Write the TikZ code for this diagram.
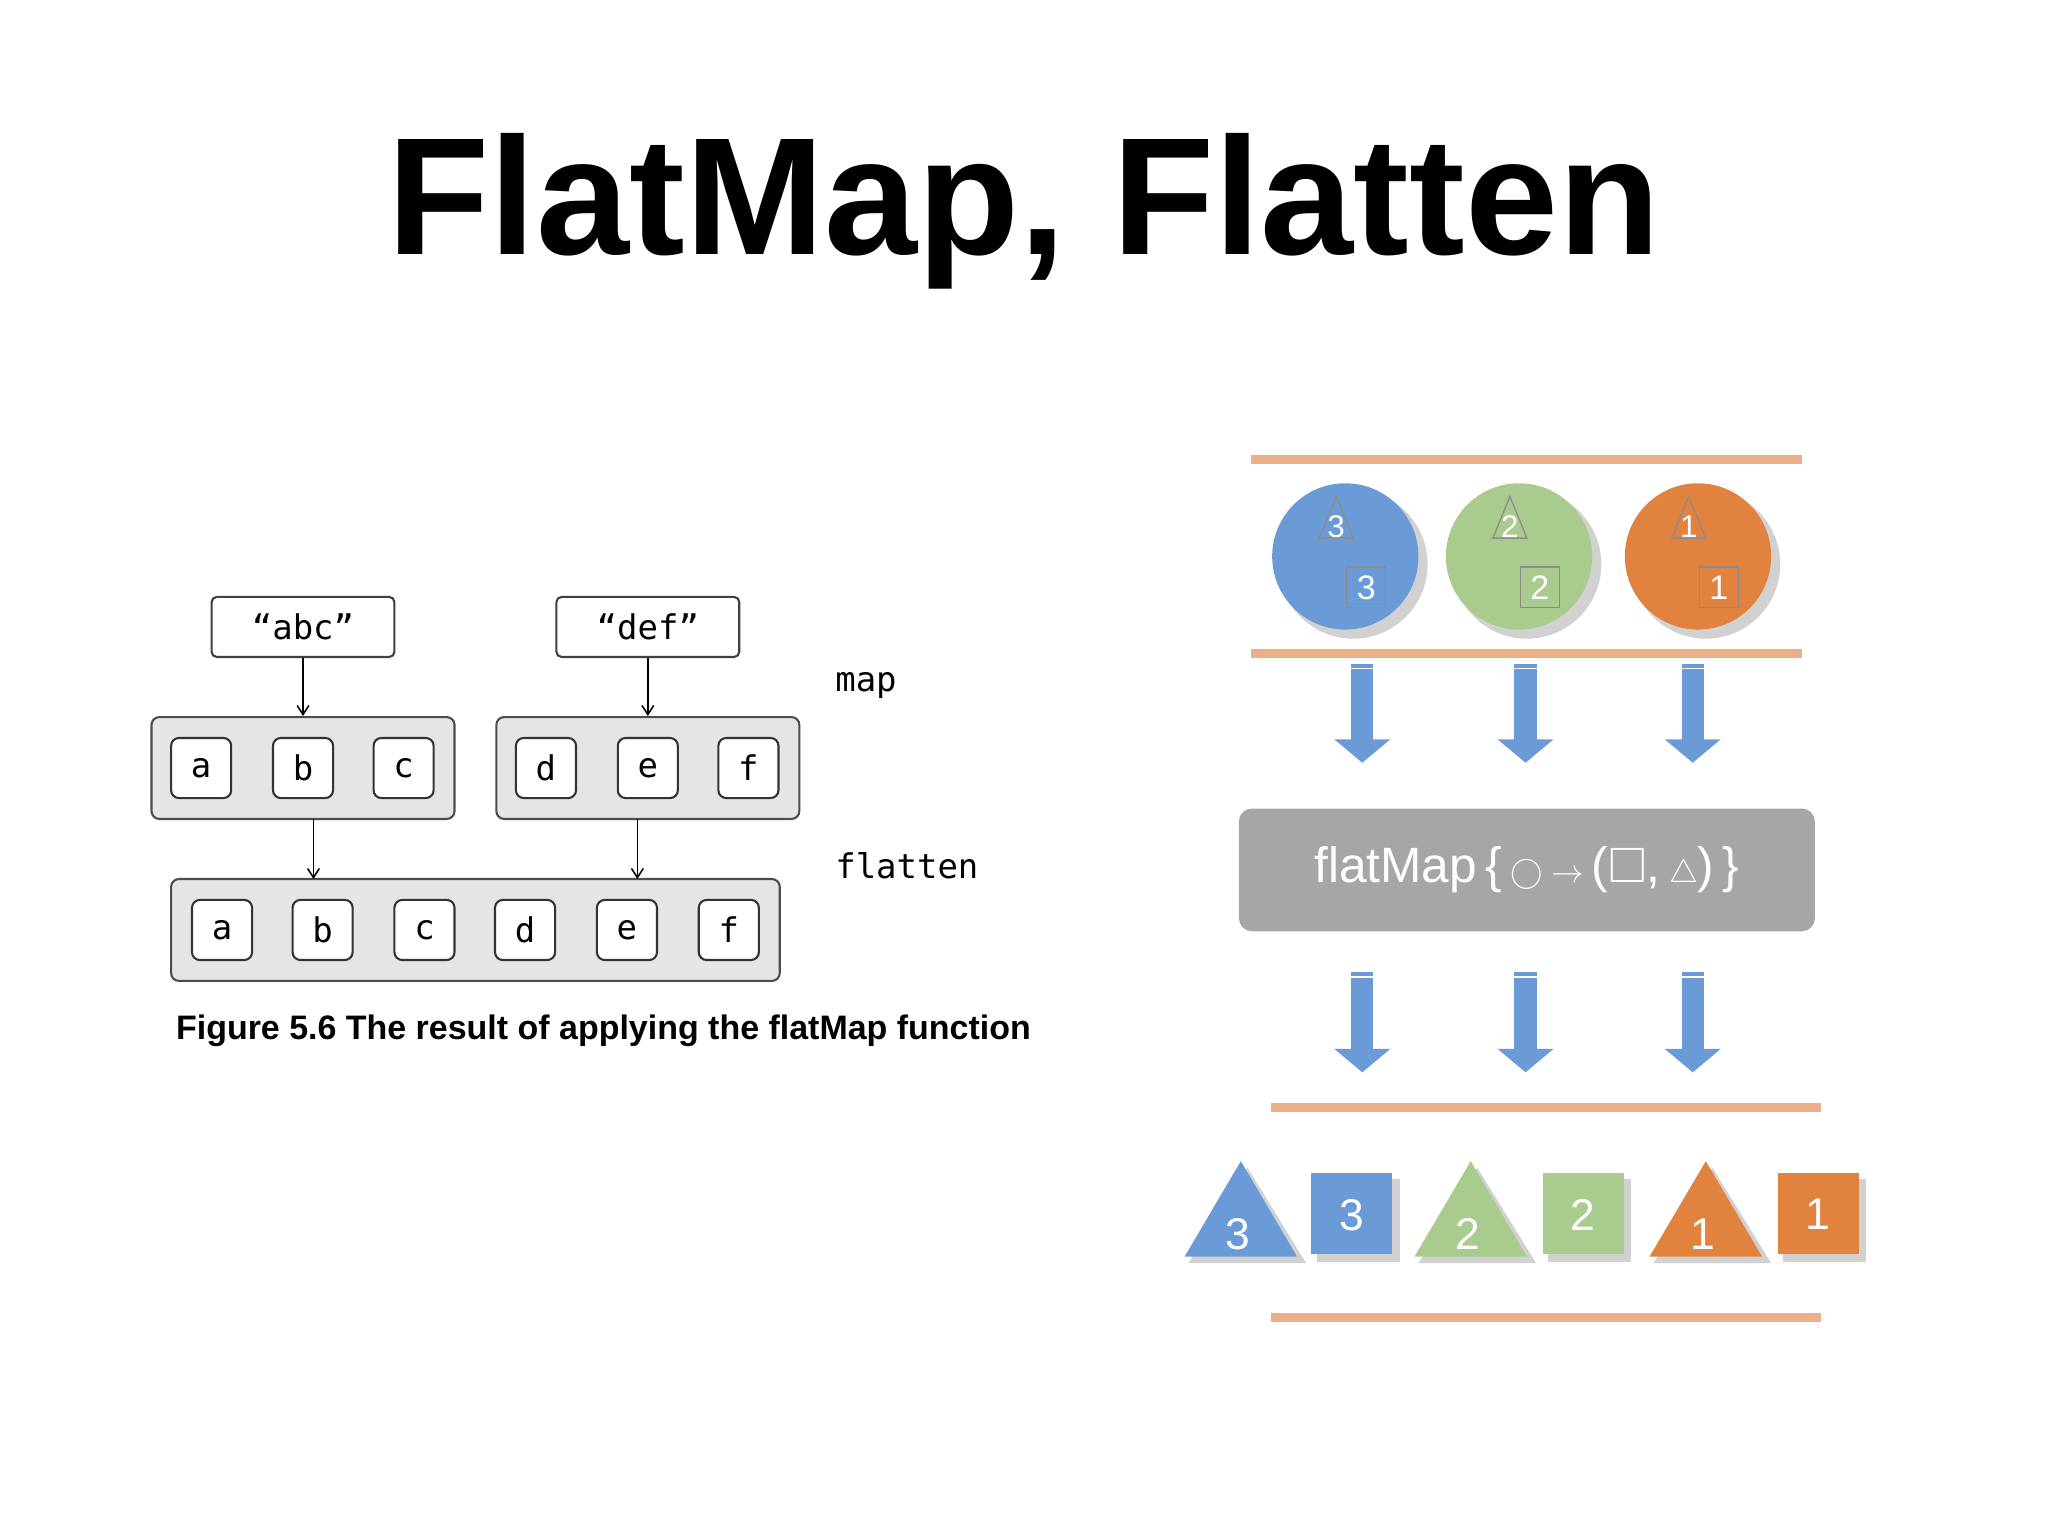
\documentclass[tikz,border=0pt]{standalone}
\usepackage{amssymb}
\usepackage{fontspec}
\setmainfont{Liberation Sans}
\newfontfamily\monof{DejaVu Sans Mono}
\usetikzlibrary{arrows.meta}
\definecolor{ob}{HTML}{6A9BD6}
\definecolor{og}{HTML}{A9CC8E}
\definecolor{oo}{HTML}{E2823F}
\definecolor{ol}{HTML}{EBB08A}
\begin{document}
\begin{tikzpicture}[x=1pt,y=-1pt,
  str/.style={draw=black!75,line width=1.6pt,rounded corners=4pt,fill=white,minimum width=140pt,minimum height=46pt,font=\monof\fontsize{26}{28}\selectfont},
  grp/.style={draw=black!70,line width=1.6pt,rounded corners=6pt,fill=black!10,minimum height=78pt},
  let/.style={draw=black!80,line width=1.6pt,rounded corners=6pt,fill=white,minimum width=46pt,minimum height=46pt,inner sep=0pt,font=\monof\fontsize{26}{28}\selectfont},
  sarr/.style={-{Straight Barb[length=7pt,width=9pt]},line width=1.2pt},
  oline/.style={ol,line width=7pt},
  barr/.style={ob,line width=17pt,-{Triangle[length=18pt,width=42pt]}},
  shad/.style={black,opacity=0.18},
  wt/.style={text=white,font=\fontsize{30}{32}\selectfont,inner sep=0pt}]
\useasboundingbox (0,0) rectangle (1568,1176);
\node[font=\bfseries\fontsize{128}{130}\selectfont] (title) at (784,162) {FlatMap, Flatten};
% left diagram
\node[str] (abc) at (232,480) {“abc”};
\node[str] (def) at (496,480) {“def”};
\node[grp,minimum width=232pt] (g1) at (232,588) {};
\node[grp,minimum width=232pt] (g2) at (496,588) {};
\node[grp,minimum width=466pt] (g3) at (364,712) {};
\foreach \n/\x in {a/154,b/232,c/309} \node[let] (u\n) at (\x,588) {\n};
\foreach \n/\x in {d/418,e/496,f/573} \node[let] (u\n) at (\x,588) {\n};
\foreach \n/\x in {a/170,b/247,c/325,d/402,e/480,f/558} \node[let] (v\n) at (\x,712) {\n};
\coordinate (s1) at (240,627); \coordinate (s2) at (488,627);
\coordinate (t1) at (240,673); \coordinate (t2) at (488,673);
\draw[sarr] (abc.south) -- (g1.north);
\draw[sarr] (def.south) -- (g2.north);
\draw[sarr] (s1) -- (t1);
\draw[sarr] (s2) -- (t2);
\node[font=\monof\fontsize{26}{28}\selectfont,anchor=west] (map) at (636,525) {map};
\node[font=\monof\fontsize{26}{28}\selectfont,anchor=west] (fl) at (636,663) {flatten};
\node[font=\bfseries\fontsize{26}{28}\selectfont] (cap) at (462,789) {Figure 5.6 The result of applying the flatMap function};
% right
\draw[oline] (958,352) -- (1380,352);
\draw[oline] (958,500) -- (1380,500);
\draw[oline] (973,848) -- (1394,848);
\draw[oline] (973,1009) -- (1394,1009);
\foreach \c/\x/\k in {ob/1030/3,og/1163/2,oo/1300/1}{
  \fill[shad] (\x+6,432) circle (57);
  \fill[\c] (\x,426) circle (56);
  \draw[black!45,line width=1pt] (\x-20,412) -- (\x-7,380) -- (\x+6,412) -- cycle;
  \node[wt,font=\fontsize{24}{26}\selectfont] at (\x-7,403) {\k};
  \draw[black!45,line width=1pt] (\x+1,434) rectangle (\x+31,465);
  \node[wt,font=\fontsize{26}{28}\selectfont] at (\x+16,450) {\k};
}
\foreach \x in {1043,1168,1296}{
  \draw[barr] (\x,508) -- (\x,584);
  \draw[white,line width=1pt] (\x-9,512) -- (\x+9,512);
  \draw[barr] (\x,744) -- (\x,821);
  \draw[white,line width=1pt] (\x-9,748) -- (\x+9,748);
}
\node[fill=black!35,rounded corners=10pt,minimum width=441pt,minimum height=94pt,text=white,font=\fontsize{38}{40}\selectfont] (fm) at (1169,666) {flatMap\,\{\,$\bigcirc$\,$\rightarrow$\,($\square$,\,$\triangle$)\,\}};
\foreach \c/\x/\k in {ob/950/3,og/1126/2,oo/1306/1}{
  \fill[shad] (\x-40,967) -- (\x+5,894) -- (\x+50,967) -- cycle;
  \fill[\c] (\x-43,962) -- (\x,889) -- (\x+43,962) -- cycle;
  \node[wt,font=\fontsize{34}{36}\selectfont] at (\x-2,945) {\k};
}
\foreach \c/\x/\k in {ob/1035/3,og/1212/2,oo/1392/1}{
  \fill[shad] (\x-27,903) rectangle (\x+37,966);
  \fill[\c] (\x-31,898) rectangle (\x+31,960);
  \node[wt,font=\fontsize{34}{36}\selectfont] at (\x,930) {\k};
}
\end{tikzpicture}
\end{document}
